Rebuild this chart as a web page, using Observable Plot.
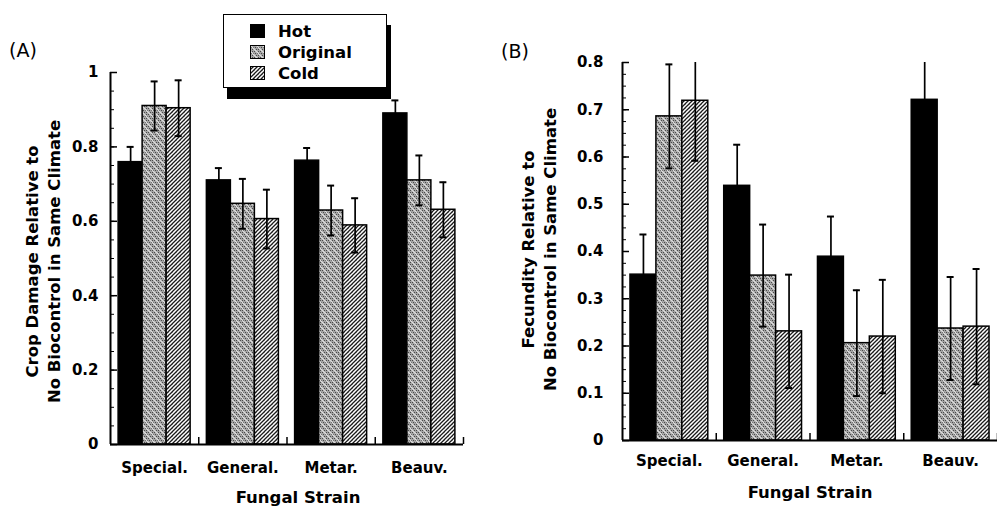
<!DOCTYPE html>
<html>
<head>
<meta charset="utf-8">
<script src="https://cdn.jsdelivr.net/npm/d3@7"></script>
<script src="https://cdn.jsdelivr.net/npm/@observablehq/plot@0.6"></script>
<style>
  html, body { margin: 0; padding: 0; background: #fff; overflow: hidden; width: 997px; height: 506px; }
  #wrap { position: relative; width: 997px; height: 506px; }
  .panel { position: absolute; top: 0; }
  .panel svg { max-width: none !important; overflow: visible; }
  .tag { position: absolute; font-family: "DejaVu Sans", sans-serif; font-size: 19px; line-height: 1; }
  #legend { position: absolute; left: 223px; top: 14px; width: 164px; height: 74px; box-sizing: border-box;
            background: #fff; border: 1.5px solid #000; box-shadow: 4px 11px 0 #000; z-index: 5;
            font-family: "DejaVu Sans", sans-serif; font-weight: bold; font-size: 16.5px; }
  #legend .row { position: absolute; left: 26px; height: 16px; display: flex; align-items: center; }
  #legend .row svg { display: block; margin-right: 13px; }
</style>
</head>
<body>
<svg width="0" height="0" style="position:absolute">
  <defs>
    <pattern id="pOrig" width="6" height="6" patternUnits="userSpaceOnUse">
      <rect width="6" height="6" fill="#a4a4a4"/>
      <path d="M0,0h1v1h-1z M2,0h1v1h-1z M4,0h1v1h-1z M1,2h1v1h-1z M3,2h1v1h-1z M5,2h1v1h-1z M0,4h1v1h-1z M2,4h1v1h-1z M4,4h1v1h-1z" fill="#4a4a4a"/>
      <path d="M-1,-1L7,7 M-1,5L1,7 M5,-1L7,1" stroke="#e2e2e2" stroke-width="1.2"/>
    </pattern>
    <pattern id="pCold" width="4" height="4" patternUnits="userSpaceOnUse">
      <rect width="4" height="4" fill="#fff"/>
      <path d="M0,4L4,0 M-1,1L1,-1 M3,5L5,3" stroke="#1a1a1a" stroke-width="1.25"/>
      <rect x="0" y="0" width="1" height="1" fill="#777"/>
    </pattern>
  </defs>
</svg>
<div id="wrap">
  <div class="tag" style="left:9px; top:41px;">(A)</div>
  <div class="tag" style="left:501px; top:42px;">(B)</div>
  <div id="panelA" class="panel" style="left:0px; width:497px;"></div>
  <div id="panelB" class="panel" style="left:497px; width:506px;"></div>
  <div id="legend"></div>
</div>
<script>
// ---------- data ----------
const strains = ["Special.", "General.", "Metar.", "Beauv."];
const series = ["Hot", "Original", "Cold"];
const seriesFill = ["#000", "url(#pOrig)", "url(#pCold)"];

// Panel A: crop damage relative to no biocontrol
const damageHot = [0.759, 0.710, 0.763, 0.890];
const damageHotErr = [0.041, 0.033, 0.034, 0.035];
const damageOriginal = [0.910, 0.647, 0.629, 0.710];
const damageOriginalErr = [0.066, 0.067, 0.067, 0.067];
const damageCold = [0.904, 0.606, 0.589, 0.631];
const damageColdErr = [0.075, 0.079, 0.073, 0.074];

// Panel B: fecundity relative to no biocontrol
const fecHot = [0.351, 0.539, 0.389, 0.721];
const fecHotErr = [0.085, 0.087, 0.085, 0.090];
const fecOriginal = [0.686, 0.349, 0.206, 0.237];
const fecOriginalErr = [0.110, 0.108, 0.112, 0.109];
const fecCold = [0.719, 0.231, 0.220, 0.241];
const fecColdErr = [0.127, 0.120, 0.120, 0.122];

const yTicksA = [0, 0.2, 0.4, 0.6, 0.8, 1];
const yTicksB = [0, 0.1, 0.2, 0.3, 0.4, 0.5, 0.6, 0.7, 0.8];

const xTitle = "Fungal Strain";
const yTitleA = "Crop Damage Relative to\nNo Biocontrol in Same Climate";
const yTitleB = "Fecundity Relative to\nNo Biocontrol in Same Climate";

// ---------- build ----------
function table(vals, errs) {
  const out = [];
  strains.forEach((s, g) => series.forEach((k, j) => {
    out.push({strain: s, series: k, g, j, value: vals[j][g], err: errs[j][g]});
  }));
  return out;
}

const fmt = d => String(+d.toFixed(2));
const FONT = "DejaVu Sans, sans-serif";

function panel(cfg) {
  const {data, yDomain, yTicks, minorStep, width, height, ml, mr, mt, mb, pad,
         tickPadding, catDy, titleDx, titleDy, yTitle, yTitleDx, yTitleDy} = cfg;
  const n = strains.length;
  const bw = (1 - 2 * pad) / series.length;
  const x1 = d => d.g + pad + d.j * bw;
  const x2 = d => x1(d) + bw;
  const xc = d => x1(d) + bw / 2;
  const fw = width - ml - mr, fh = height - mt - mb;
  const pxX = p => p * n / fw;
  const pxY = p => p * (yDomain[1] - yDomain[0]) / fh;
  const minors = d3.range(0, Math.round(yDomain[1] / minorStep) + 1).map(i => +(i * minorStep).toFixed(4));
  const hi = d => d.value + d.err, lo = d => d.value - d.err;
  return Plot.plot({
    width, height, marginLeft: ml, marginRight: mr, marginTop: mt, marginBottom: mb,
    style: {fontFamily: FONT, background: "transparent", overflow: "visible"},
    x: {domain: [0, n], axis: null},
    y: {domain: yDomain},
    color: {type: "ordinal", domain: series, range: seriesFill},
    marks: [
      Plot.rect(data, {x1, x2, y1: 0, y2: "value", fill: "series", stroke: "#000", strokeWidth: 1.5}),
      Plot.ruleX(data, {x: xc, y1: lo, y2: hi, stroke: "#000", strokeWidth: 1.7, clip: true}),
      Plot.ruleY(data, {y: hi, x1: d => xc(d) - pxX(3.5), x2: d => xc(d) + pxX(3.5), stroke: "#000", strokeWidth: 2, clip: true}),
      Plot.ruleY(data, {y: lo, x1: d => xc(d) - pxX(3.5), x2: d => xc(d) + pxX(3.5), stroke: "#000", strokeWidth: 2, clip: true}),
      Plot.ruleX([0], {stroke: "#000", strokeWidth: 2}),
      Plot.ruleY([0], {stroke: "#000", strokeWidth: 2}),
      Plot.ruleY(yTicks, {y: d => d, x1: 0, x2: pxX(7), stroke: "#000", strokeWidth: 1.5}),
      Plot.ruleY(minors, {y: d => d, x1: 0, x2: pxX(4), stroke: "#000", strokeWidth: 1}),
      Plot.ruleX(d3.range(1, n + 1), {x: d => d, y1: 0, y2: pxY(7), stroke: "#000", strokeWidth: 1.5}),
      Plot.axisY({ticks: yTicks, tickSize: 0, tickPadding, tickFormat: fmt, label: null,
                  fontSize: 15, fontWeight: "bold", fontFamily: FONT}),
      Plot.text(strains, {x: (d, i) => i + 0.5, y: 0, dy: catDy, text: d => d,
                          fontSize: 15, fontWeight: "bold", fontFamily: FONT}),
      Plot.text([xTitle], {frameAnchor: "bottom", lineAnchor: "middle", dx: titleDx, dy: titleDy, text: d => d,
                           fontSize: 16.5, fontWeight: "bold", fontFamily: FONT}),
      Plot.text([yTitle], {frameAnchor: "left", rotate: -90, textAnchor: "middle", lineAnchor: "middle",
                           lineHeight: 1.35, dx: yTitleDx, dy: yTitleDy, text: d => d,
                           fontSize: 16.5, fontWeight: "bold", fontFamily: FONT})
    ]
  });
}

const dataA = table([damageHot, damageOriginal, damageCold], [damageHotErr, damageOriginalErr, damageColdErr]);
const dataB = table([fecHot, fecOriginal, fecCold], [fecHotErr, fecOriginalErr, fecColdErr]);

document.getElementById("panelA").append(panel({
  data: dataA, yDomain: [0, 1], yTicks: yTicksA, minorStep: 0.05,
  width: 497, height: 506, ml: 110, mr: 34, mt: 72, mb: 62, pad: 0.092,
  tickPadding: 12, catDy: 24, titleDx: 11, titleDy: 53,
  yTitle: yTitleA, yTitleDx: -69, yTitleDy: 3
}));

document.getElementById("panelB").append(panel({
  data: dataB, yDomain: [0, 0.8], yTicks: yTicksB, minorStep: 0.025,
  width: 506, height: 506, ml: 125, mr: 6, mt: 62, mb: 66, pad: 0.085,
  tickPadding: 19, catDy: 21, titleDx: 0, titleDy: 52,
  yTitle: yTitleB, yTitleDx: -85, yTitleDy: -2
}));

// ---------- legend ----------
const legend = document.getElementById("legend");
series.forEach((s, i) => {
  const row = document.createElement("div");
  row.className = "row";
  row.style.top = (8 + i * 21) + "px";
  row.innerHTML = `<svg width="15" height="14"><rect x="0.5" y="0.5" width="14" height="13" fill="${seriesFill[i]}" stroke="#000" stroke-width="1"/></svg><span>${s}</span>`;
  legend.append(row);
});
</script>
</body>
</html>
